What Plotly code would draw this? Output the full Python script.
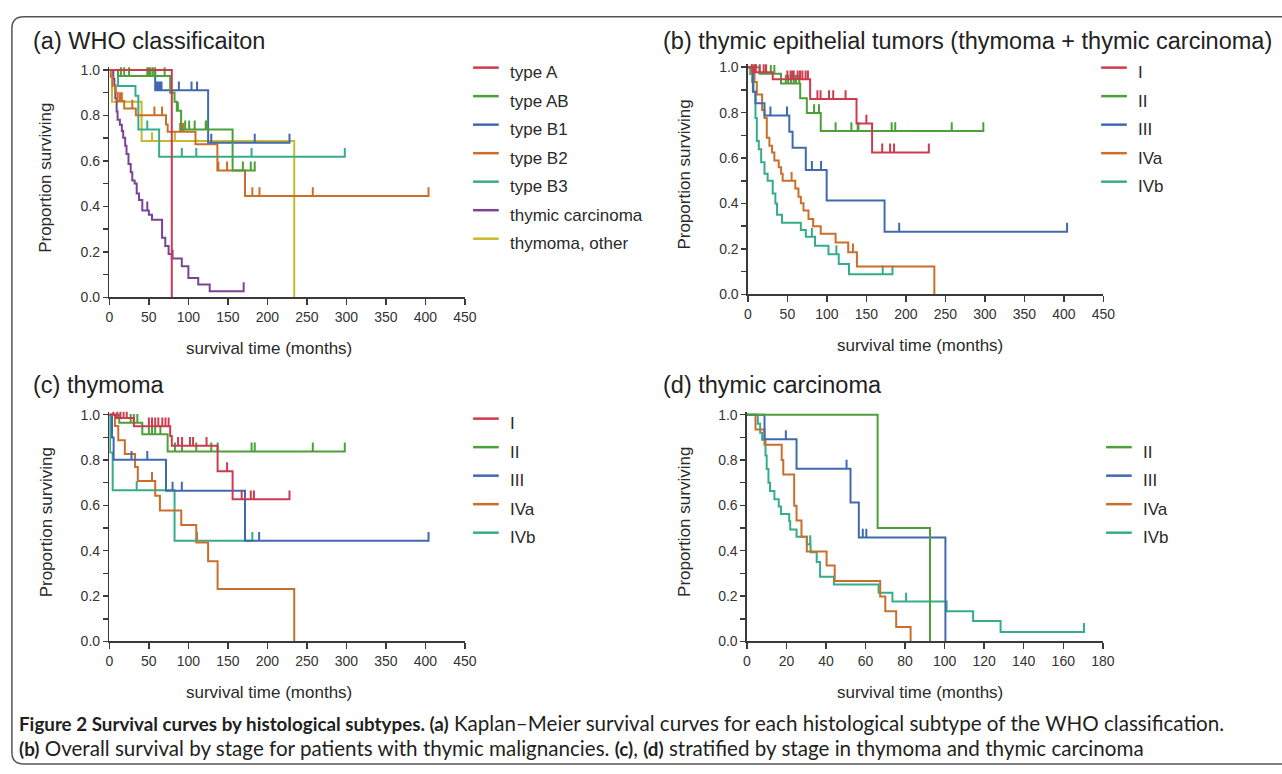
import plotly.graph_objects as go

W, H = 1282, 774

RED = "#CD3B4F"; GREEN = "#4BA03A"; BLUE = "#4169AF"; ORANGE = "#C96F2B"
TEAL = "#35AD8B"; PURPLE = "#7A4494"; YELLOW = "#C9B92D"

# ---------------- Panel (a): WHO classification ----------------
a_labels = ["type A", "type AB", "type B1", "type B2", "type B3", "thymic carcinoma", "thymoma, other"]
a_colors = [RED, GREEN, BLUE, ORANGE, TEAL, PURPLE, YELLOW]

a_typeA_t = [79]
a_typeA_s = [0.0]
a_typeA_c = []

a_typeAB_t = [11, 77, 82.5, 85.4, 90.8, 156]
a_typeAB_s = [0.973, 0.90, 0.86, 0.82, 0.738, 0.558]
a_typeAB_c = [14.6, 18.8, 25, 48, 50, 52, 55, 58, 70, 86.7, 96, 101, 108, 122, 124, 169, 179, 184]

a_typeB1_t = [58, 125]
a_typeB1_s = [0.91, 0.68]
a_typeB1_c = [58.5, 60, 62, 64, 66, 88, 104, 111, 129, 184, 228]

a_typeB2_t = [1.5, 4, 8, 10.4, 18.8, 33.5, 71.7, 73.8, 109, 136.7, 171.7]
a_typeB2_s = [0.97, 0.93, 0.90, 0.863, 0.83, 0.80, 0.76, 0.728, 0.673, 0.558, 0.445]
a_typeB2_c = [13.3, 15.8, 29, 57, 66.7, 89.6, 91.5, 93.8, 138, 149, 181, 190, 257.5, 404]

a_typeB3_t = [11, 33, 36.7, 63]
a_typeB3_s = [0.929, 0.886, 0.738, 0.618]
a_typeB3_c = [48, 91.7, 110, 180, 298]

a_tc_t = [5, 6.3, 7.5, 9.2, 10.4, 13.3, 15.8, 17.5, 20, 21.7, 24.2, 27, 29, 32, 34.6,
          37.5, 41.7, 50, 54, 66.7, 70.8, 75, 79, 91.7, 100, 112.5, 127]
a_tc_s = [0.961, 0.932, 0.875, 0.817, 0.781, 0.759, 0.731, 0.702, 0.666, 0.630, 0.586,
          0.550, 0.514, 0.50, 0.457, 0.428, 0.382, 0.363, 0.341, 0.262, 0.226, 0.190,
          0.171, 0.137, 0.085, 0.056, 0.027]
a_tc_c = [48, 80, 170]

a_other_t = [3.3, 40.8, 234]
a_other_s = [0.86, 0.687, 0.0]
a_other_c = [54, 83]

# ---------------- Panel (b): stages, all thymic epithelial tumors ----------------
stage_labels = ["I", "II", "III", "IVa", "IVb"]

b_I_t = [6.3, 31.4, 78.8, 137.5, 157.2]
b_I_s = [0.978, 0.947, 0.86, 0.752, 0.625]
b_I_c = [5, 8, 10, 15, 20, 23, 50, 54, 56.6, 58, 63, 66, 69, 73, 76, 88, 92, 102.7, 108,
         123.6, 150, 170, 180, 185, 229]

b_II_t = [14.7, 41.9, 66.2, 74.6, 92.2]
b_II_s = [0.971, 0.928, 0.863, 0.798, 0.719]
b_II_c = [5, 10, 23, 29, 33.5, 48, 51, 54.5, 58, 60.8, 65, 83.8, 90, 111, 131, 139, 140,
          182, 186.5, 258, 298]

b_III_t = [6.3, 9.6, 21, 52.4, 56.6, 73.3, 99.7, 173]
b_III_s = [0.892, 0.841, 0.788, 0.716, 0.646, 0.548, 0.413, 0.276]
b_III_c = [28.5, 49.5, 81, 92.6, 191.5, 404]

b_IVa_t = [4.2, 8.4, 11.3, 18, 21, 23.9, 27.2, 30.6, 33.5, 39, 42, 44, 60, 64, 67, 70.4,
           76.7, 82.6, 92.2, 111, 127, 138, 236]
b_IVa_s = [0.978, 0.935, 0.88, 0.812, 0.776, 0.69, 0.654, 0.625, 0.589, 0.56, 0.531, 0.50,
           0.466, 0.43, 0.401, 0.369, 0.332, 0.30, 0.267, 0.228, 0.185, 0.123, 0.0]
b_IVa_c = [55.3, 133]

b_IVb_t = [2.9, 5.4, 7.1, 9.6, 11.3, 13.8, 16.8, 21, 25, 31.4, 34.8, 36.9, 43.2, 67, 73.3,
           85, 102, 115, 128]
b_IVb_s = [0.97, 0.935, 0.892, 0.776, 0.675, 0.639, 0.582, 0.531, 0.50, 0.444, 0.40, 0.351,
           0.315, 0.283, 0.254, 0.214, 0.177, 0.134, 0.088]
b_IVb_c = [81, 112, 170.6, 183]

# ---------------- Panel (c): thymoma ----------------
c_I_t = [8.3, 31, 77, 79, 137, 156]
c_I_s = [0.985, 0.949, 0.906, 0.863, 0.751, 0.627]
c_I_c = [5, 10, 14, 18, 22, 50, 54, 58, 62, 67, 71, 75, 87, 92, 102, 106, 123, 149,
         167.5, 179, 183, 228]

c_II_t = [12.5, 41.7, 73.75]
c_II_s = [0.964, 0.914, 0.838]
c_II_c = [27, 31, 35.4, 50, 54, 58, 64.6, 83, 92, 110, 129, 137, 180, 184, 257.5, 298]

c_III_t = [3.3, 5.4, 71.7, 171.7]
c_III_s = [0.899, 0.801, 0.665, 0.444]
c_III_c = [28, 48, 80, 91.7, 189.6, 404]

c_IVa_t = [7, 11.25, 19.6, 32.5, 36, 58, 64, 91, 110, 125, 137, 234]
c_IVa_s = [0.95, 0.887, 0.827, 0.769, 0.708, 0.643, 0.578, 0.513, 0.436, 0.354, 0.231, 0.0]
c_IVa_c = [54]

c_IVb_t = [0.8, 4.2, 82.5]
c_IVb_s = [0.833, 0.667, 0.444]
c_IVb_c = [34.6, 111, 181]

# ---------------- Panel (d): thymic carcinoma ----------------
d_labels = ["II", "III", "IVa", "IVb"]

d_II_t = [66.1, 92.6]
d_II_s = [0.5, 0.0]
d_II_c = []

d_III_t = [8.9, 25.1, 52.4, 56.6, 100.4]
d_III_s = [0.892, 0.762, 0.613, 0.458, 0.0]
d_III_c = [19.7, 50.4, 58.6, 60.4]

d_IVa_t = [4.35, 8.9, 17.6, 18.4, 23.9, 25.1, 27.6, 30.3, 40.3, 44.4, 67.4, 70, 75.5, 82.8]
d_IVa_s = [0.935, 0.867, 0.8, 0.736, 0.598, 0.533, 0.462, 0.397, 0.335, 0.266, 0.198,
           0.133, 0.064, 0.0]
d_IVa_c = []

d_IVb_t = [5.5, 6.7, 7.7, 9.4, 10, 10.9, 11.7, 13.9, 16.1, 17.2, 21.4, 21.9, 25.1, 30.3,
           32.3, 35.3, 37, 44, 66.6, 73.6, 101, 114.4, 128.3]
d_IVb_s = [0.96, 0.92, 0.89, 0.82, 0.76, 0.70, 0.663, 0.627, 0.595, 0.562, 0.53, 0.494,
           0.462, 0.429, 0.393, 0.35, 0.285, 0.251, 0.215, 0.176, 0.133, 0.09, 0.042]
d_IVb_c = [32, 80.5, 170.5]

x_ticks_main = [0, 50, 100, 150, 200, 250, 300, 350, 400, 450]
x_ticks_d = [0, 20, 40, 60, 80, 100, 120, 140, 160, 180]
y_ticks = [0.0, 0.2, 0.4, 0.6, 0.8, 1.0]

# caption text
cap_line1 = [("Figure 2 Survival curves by histological subtypes. (a)", True),
             (" Kaplan–Meier survival curves for each histological subtype of the WHO classification.", False)]
cap_line2 = [("(b)", True), (" Overall survival by stage for patients with thymic malignancies. ", False),
             ("(c)", True), (", ", False), ("(d)", True),
             (" stratified by stage in thymoma and thymic carcinoma", False)]

# ---------------- layout geometry (pixels) ----------------
panels = {
    "a": (106.7, 466.7, 66.0, 297.3),
    "b": (753.3, 1113.3, 63.3, 294.3),
    "c": (106.7, 466.7, 416.7, 647.3),
    "d": (752.3, 1112.7, 416.7, 647.3),
}
TOP_PAD = 3.0
TICK_PX = 9.0


def km_path(times, surv, censor, tick_h):
    pts = [(t, 0, s) for t, s in zip(times, surv)] + [(c, 1, None) for c in censor]
    pts.sort(key=lambda p: (p[0], p[1]))
    xs, ys, level = [0.0], [1.0], 1.0
    for t, kind, s in pts:
        if kind == 0:
            xs += [t, t]; ys += [level, s]; level = s
        else:
            xs += [t, t, t]; ys += [level, level + tick_h, level]
    return xs, ys


fig = go.Figure()

axis_ids = {"a": ("x", "y"), "b": ("x2", "y2"), "c": ("x3", "y3"), "d": ("x4", "y4")}
series = {
    "a": list(zip([(a_typeA_t, a_typeA_s, a_typeA_c), (a_typeAB_t, a_typeAB_s, a_typeAB_c),
                   (a_typeB1_t, a_typeB1_s, a_typeB1_c), (a_typeB2_t, a_typeB2_s, a_typeB2_c),
                   (a_typeB3_t, a_typeB3_s, a_typeB3_c), (a_tc_t, a_tc_s, a_tc_c),
                   (a_other_t, a_other_s, a_other_c)], a_colors, a_labels)),
    "b": list(zip([(b_I_t, b_I_s, b_I_c), (b_II_t, b_II_s, b_II_c), (b_III_t, b_III_s, b_III_c),
                   (b_IVa_t, b_IVa_s, b_IVa_c), (b_IVb_t, b_IVb_s, b_IVb_c)],
                  [RED, GREEN, BLUE, ORANGE, TEAL], stage_labels)),
    "c": list(zip([(c_I_t, c_I_s, c_I_c), (c_II_t, c_II_s, c_II_c), (c_III_t, c_III_s, c_III_c),
                   (c_IVa_t, c_IVa_s, c_IVa_c), (c_IVb_t, c_IVb_s, c_IVb_c)],
                  [RED, GREEN, BLUE, ORANGE, TEAL], stage_labels)),
    "d": list(zip([(d_II_t, d_II_s, d_II_c), (d_III_t, d_III_s, d_III_c),
                   (d_IVa_t, d_IVa_s, d_IVa_c), (d_IVb_t, d_IVb_s, d_IVb_c)],
                  [GREEN, BLUE, ORANGE, TEAL], d_labels)),
}

for key, items in series.items():
    xa, ya = axis_ids[key]
    l, r, t, b = panels[key]
    tick_h = TICK_PX / (b - t)
    for (tt, ss, cc), col, lab in reversed(items):
        xs, ys = km_path(tt, ss, cc, tick_h)
        fig.add_trace(go.Scatter(x=xs, y=ys, mode="lines", name=lab, xaxis=xa, yaxis=ya,
                                 line=dict(color=col, width=2), hoverinfo="skip",
                                 showlegend=False))

AX_COLOR = "#3a3a3a"
SANS = "Liberation Sans, Arial, sans-serif"
TICK_FONT = dict(family=SANS, size=14, color="#333333")
layout_axes = {}
for idx, key in enumerate(["a", "b", "c", "d"]):
    l, r, t, b = panels[key]
    sfx = "" if idx == 0 else str(idx + 1)
    xmax = 180 if key == "d" else 450
    xt = x_ticks_d if key == "d" else x_ticks_main
    ppu = b - t
    layout_axes["xaxis" + sfx] = dict(
        domain=[l / W, r / W], range=[0, xmax], anchor="y" + sfx,
        tickvals=xt, ticktext=[str(v) for v in xt], ticks="outside", ticklen=6,
        tickwidth=1.5, tickcolor=AX_COLOR, showline=True, linecolor=AX_COLOR, linewidth=1.5,
        showgrid=False, zeroline=False, tickfont=TICK_FONT, fixedrange=True)
    layout_axes["yaxis" + sfx] = dict(
        domain=[1 - b / H, 1 - (t - TOP_PAD) / H], range=[0, 1 + TOP_PAD / ppu],
        anchor="x" + sfx, tickvals=y_ticks, ticktext=["%.1f" % v for v in y_ticks],
        ticks="outside", ticklen=5, tickwidth=1.5, tickcolor=AX_COLOR,
        minor=dict(dtick=0.1, tick0=0, ticks="outside", ticklen=5, tickwidth=1.5,
                   tickcolor=AX_COLOR),
        showline=True, linecolor=AX_COLOR, linewidth=1.5, showgrid=False, zeroline=False,
        tickfont=TICK_FONT, fixedrange=True)

fig.update_layout(width=W, height=H, margin=dict(l=0, r=0, t=0, b=0),
                  paper_bgcolor="white", plot_bgcolor="white", showlegend=False,
                  **layout_axes)

LAB_FONT = dict(family=SANS, size=17, color="#2a2a2a")
TITLE_FONT = dict(family=SANS, size=23.5, color="#222222")


def px(x):
    return x / W


def py(y):
    return 1 - y / H


annotations = []
shapes = []

for txt, x, y in [("(a) WHO classificaiton", 27, 37),
                  ("(b) thymic epithelial tumors (thymoma + thymic carcinoma)", 665, 37),
                  ("(c) thymoma", 27, 386), ("(d) thymic carcinoma", 665, 386)]:
    annotations.append(dict(text=txt, x=px(x), y=py(y), xref="paper", yref="paper",
                            xanchor="left", yanchor="middle", showarrow=False, font=TITLE_FONT))

for key in ["a", "b", "c", "d"]:
    l, r, t, b = panels[key]
    xc = 268 if l < 300 else 928
    annotations.append(dict(text="survival time (months)", x=px(xc), y=py(b + 52),
                            xref="paper", yref="paper", xanchor="center", yanchor="middle",
                            showarrow=False, font=LAB_FONT))
    annotations.append(dict(text="Proportion surviving", x=px(l - 64), y=py((t + b) / 2 - 6),
                            xref="paper", yref="paper", xanchor="center", yanchor="middle",
                            textangle=-90, showarrow=False, font=LAB_FONT))

legend_specs = [("a", 475, 63.7), ("b", 1111, 63.7), ("c", 475, 420.7), ("d", 1116, 449.7)]
for key, lx, ly in legend_specs:
    for i, (_, col, lab) in enumerate(series[key]):
        yy = ly + 29 * i
        shapes.append(dict(type="line", xref="paper", yref="paper", x0=px(lx), x1=px(lx + 26),
                           y0=py(yy), y1=py(yy), line=dict(color=col, width=2.5)))
        annotations.append(dict(text=lab, x=px(lx + 35), y=py(yy + 5), xref="paper",
                                yref="paper", xanchor="left", yanchor="middle",
                                showarrow=False, font=LAB_FONT))

# caption: one annotation per line, bold parts slightly smaller
CAP_FONT = dict(family="Lato, Open Sans, sans-serif", size=20.6, color="#231f20")


def cap_text(parts):
    out = []
    for txt, bold in parts:
        if bold:
            out.append('<span style="font-size:18.8px"><b>%s</b></span>' % txt)
        else:
            out.append(txt)
    return "".join(out)


for parts, y in [(cap_line1, 730), (cap_line2, 756)]:
    annotations.append(dict(text=cap_text(parts), x=px(13), y=py(y), xref="paper",
                            yref="paper", xanchor="left", yanchor="middle", showarrow=False,
                            font=CAP_FONT))

L0, T0, R0, B0, RAD = 8, 12, 1300, 772, 12
path = (f"M {px(L0)} {py(T0 + RAD)} L {px(L0)} {py(B0 - RAD)} "
        f"Q {px(L0)} {py(B0)} {px(L0 + RAD)} {py(B0)} L {px(R0)} {py(B0)} "
        f"M {px(L0)} {py(T0 + RAD)} Q {px(L0)} {py(T0)} {px(L0 + RAD)} {py(T0)} L {px(R0)} {py(T0)}")
shapes.append(dict(type="path", xref="paper", yref="paper", path=path,
                   line=dict(color="#555555", width=1.5)))

fig.update_layout(annotations=annotations, shapes=shapes)

fig.write_html("out.html", config={"displayModeBar": False, "staticPlot": True},
               post_script="document.body.style.margin='0';document.body.style.overflow='hidden';")
